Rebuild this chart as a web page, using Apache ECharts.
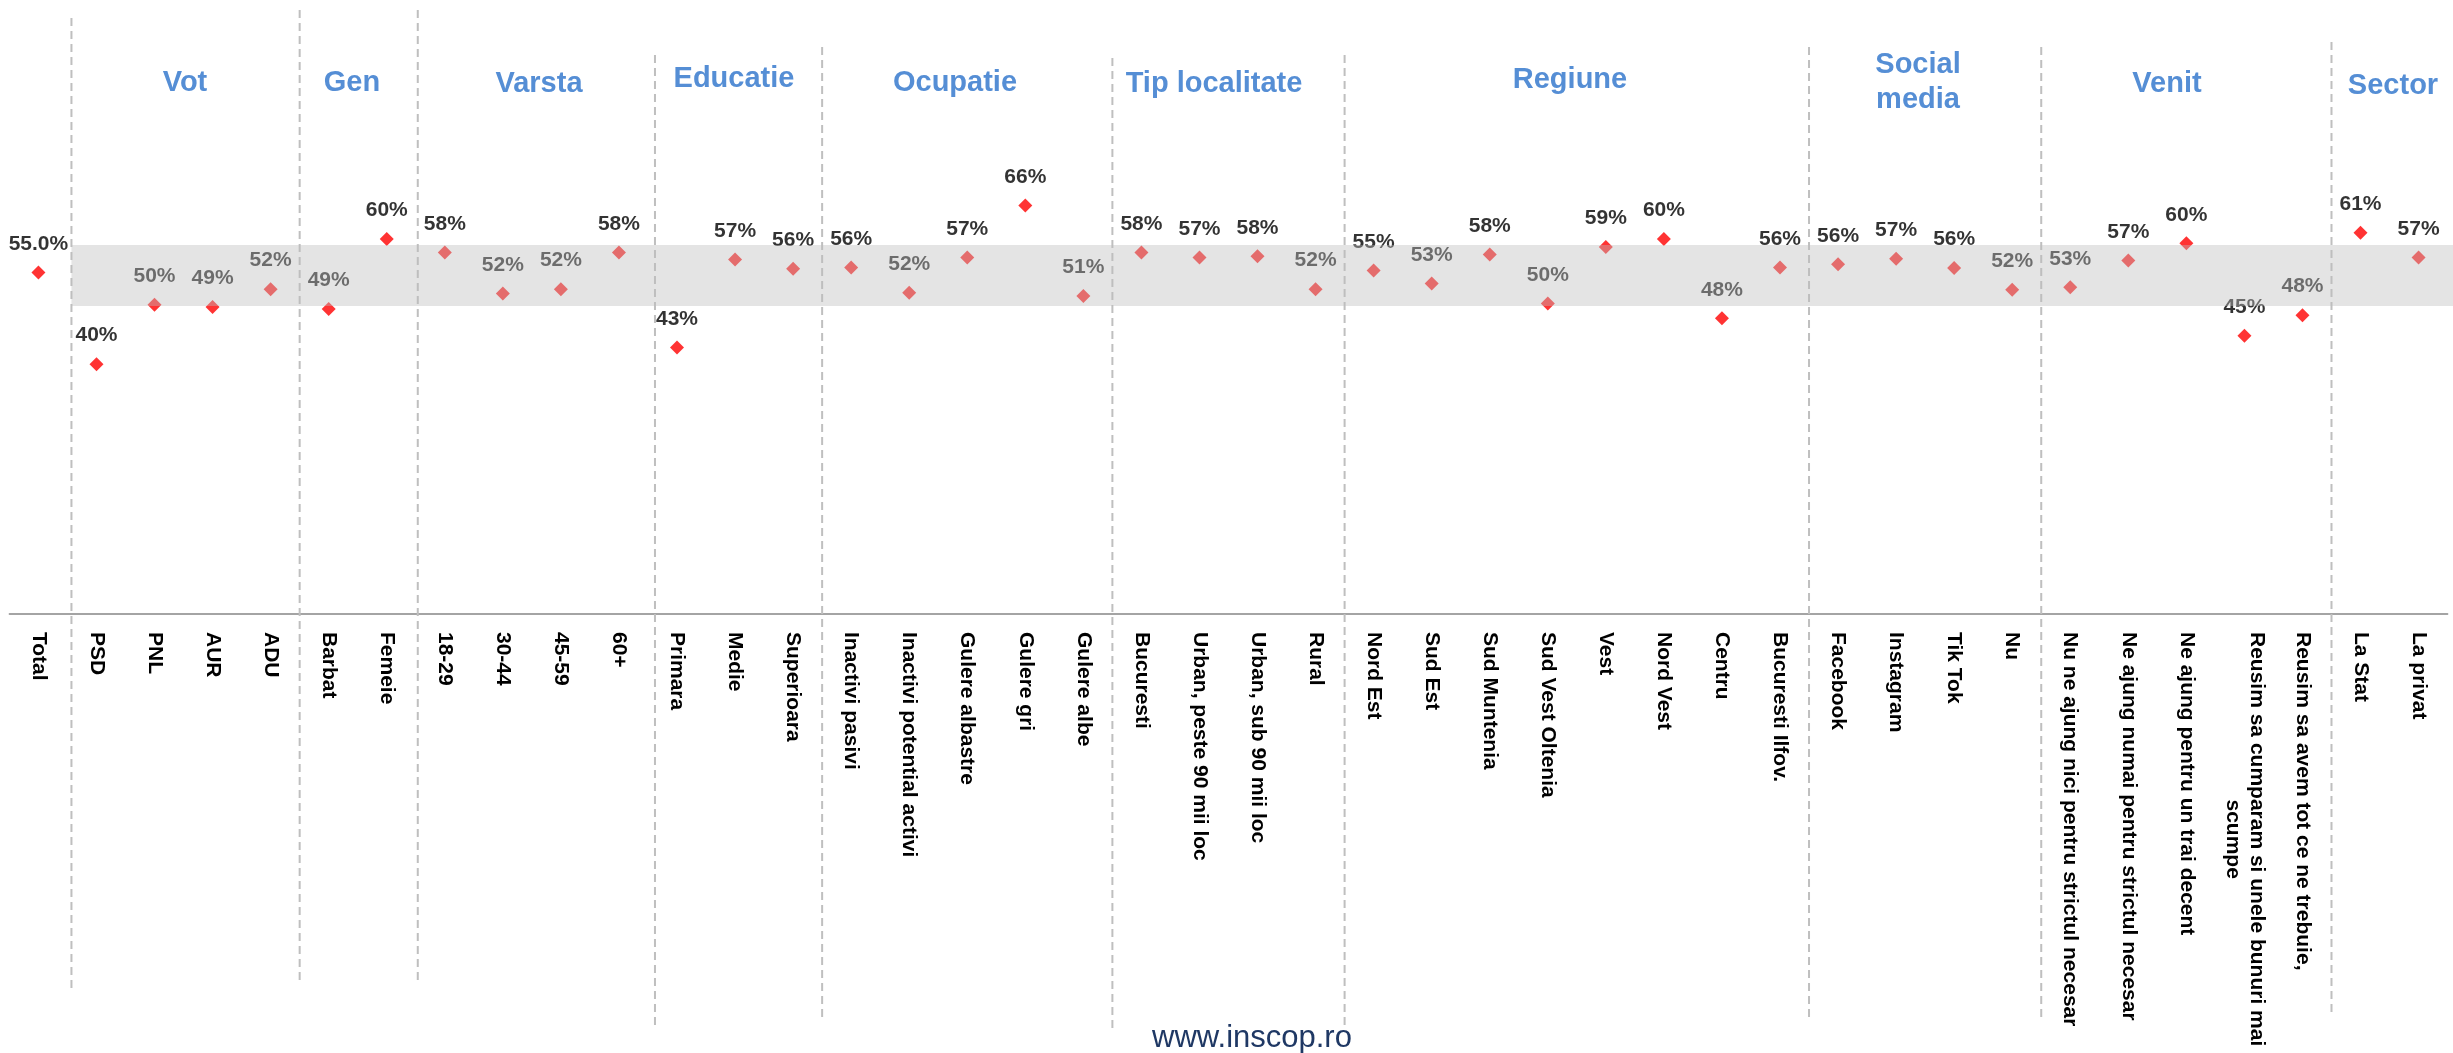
<!DOCTYPE html>
<html>
<head>
<meta charset="utf-8">
<title>INSCOP</title>
<script src="https://cdn.jsdelivr.net/npm/echarts@6/dist/echarts.min.js"></script>
<style>
  html, body { margin: 0; padding: 0; background: #ffffff; }
  #chart { width: 2453px; height: 1053px; }
</style>
</head>
<body>
<div id="chart"></div>
<script>
// categorii pe axa X
const categories = [
  "Total",
  "PSD", "PNL", "AUR", "ADU",
  "Barbat", "Femeie",
  "18-29", "30-44", "45-59", "60+",
  "Primara", "Medie", "Superioara",
  "Inactivi pasivi", "Inactivi potential activi", "Gulere albastre", "Gulere gri", "Gulere albe",
  "Bucuresti", "Urban, peste 90 mii loc", "Urban, sub 90 mii loc", "Rural",
  "Nord Est", "Sud Est", "Sud Muntenia", "Sud Vest Oltenia", "Vest", "Nord Vest", "Centru", "Bucuresti Ilfov.",
  "Facebook", "Instagram", "Tik Tok", "Nu",
  "Nu ne ajung nici pentru strictul necesar", "Ne ajung numai pentru strictul necesar",
  "Ne ajung pentru un trai decent", "Reusim sa cumparam si unele bunuri mai\nscumpe",
  "Reusim sa avem tot ce ne trebuie,",
  "La Stat", "La privat"
];

// procente
const values = [
  55.0,
  40.2, 49.8, 49.4, 52.3,
  49.1, 60.4,
  58.2, 51.6, 52.3, 58.2,
  42.9, 57.1, 55.6,
  55.8, 51.7, 57.4, 65.8, 51.2,
  58.2, 57.4, 57.6, 52.3,
  55.3, 53.2, 57.9, 50.0, 59.1, 60.4, 47.6, 55.8,
  56.3, 57.2, 55.7, 52.2,
  52.6, 56.9, 59.7, 44.8, 48.1,
  61.4, 57.4
];

// grupuri (titluri) si cate categorii are fiecare
const groupNames = ["Vot", "Gen", "Varsta", "Educatie", "Ocupatie", "Tip localitate", "Regiune", "Social\nmedia", "Venit", "Sector"];
const groupSizes = [4, 2, 4, 3, 5, 4, 8, 4, 5, 2];

// banda gri (interval)
const bandRange = [49.6, 59.4];

// --- layout ---
const FONT = '"Liberation Sans", Arial, Helvetica, sans-serif';
const titlePos = [[185, 83], [352, 83], [539, 84], [734, 79], [955, 83], [1214, 84], [1570, 80], [1918, 82], [2167, 84], [2393, 86]];
// [sus, jos, deplasare x] pentru liniile punctate
const dividerSpan = [[18, 992, 4], [10, 984, 0], [10, 984, 2], [55, 1029, 7], [47, 1019, 0], [58, 1030, 0], [55, 1030, 0], [47, 1020, 0], [47, 1020, 0], [42, 1015, 0]];
const gridRight = 5.4;

// granitele dintre grupuri (index categorie)
const boundaries = [];
let acc = 1;
groupSizes.forEach((n) => { boundaries.push(acc); acc += n; });

const chart = echarts.init(document.getElementById("chart"));

const graphics = [];
groupNames.forEach((name, i) => {
  const lines = name.split("\n");
  lines.forEach((line, j) => {
    graphics.push({
      type: "text",
      x: titlePos[i][0],
      y: titlePos[i][1] + (j - (lines.length - 1) / 2) * 35,
      z: 20,
      silent: true,
      style: {
        text: line,
        fill: "#558ED5",
        font: "bold 29px " + FONT,
        textAlign: "center",
        textVerticalAlign: "middle"
      }
    });
  });
});
graphics.push({
  type: "text",
  x: 1252,
  y: 1038,
  z: 20,
  silent: true,
  style: {
    text: "www.inscop.ro",
    fill: "#1F3864",
    font: "31px " + FONT,
    textAlign: "center",
    textVerticalAlign: "middle"
  }
});

const option = {
  backgroundColor: "#ffffff",
  animation: false,
  grid: {
    left: 9.4,
    right: gridRight,
    top: -6.6,
    bottom: 439.6,
    outerBoundsMode: "none"
  },
  xAxis: {
    type: "category",
    data: categories,
    boundaryGap: true,
    offset: 4.6,
    axisLine: { lineStyle: { color: "#868686", width: 1.5 } },
    axisTick: { interval: 0, length: 6, lineStyle: { color: "#868686", width: 1.5 } },
    splitLine: { show: false },
    axisLabel: {
      interval: 0,
      rotate: -90,
      margin: 14,
      color: "#000000",
      fontSize: 21,
      fontWeight: "bold",
      fontFamily: FONT,
      formatter: (v) => {
        if (v.indexOf("\n") < 0) return v;
        return v.split("\n").map((s) => "{w|" + s + "}").join("\n");
      },
      rich: {
        w: {
          align: "center",
          color: "#000000",
          fontSize: 21,
          fontWeight: "bold",
          fontFamily: FONT,
          lineHeight: 24
        }
      }
    }
  },
  yAxis: {
    type: "value",
    min: 0,
    max: 100,
    show: false
  },
  graphic: graphics,
  series: [
    {
      // linii punctate intre grupuri
      type: "custom",
      z: 1,
      silent: true,
      clip: false,
      data: boundaries.map((b, i) => [b, i]),
      renderItem: (params, api) => {
        const k = api.value(0);
        const i = params.dataIndex;
        const half = api.size([1, 0])[0] / 2;
        const x = api.coord([k, 0])[0] - half + dividerSpan[i][2];
        return {
          type: "line",
          shape: { x1: x, y1: dividerSpan[i][0], x2: x, y2: dividerSpan[i][1] },
          style: { stroke: "#BFBFBF", lineWidth: 2, lineDash: [8, 5] }
        };
      }
    },
    {
      type: "scatter",
      z: 2,
      silent: true,
      data: values,
      symbol: "diamond",
      symbolSize: 14,
      itemStyle: { color: "#FF0000" },
      label: {
        show: true,
        position: "top",
        distance: 11,
        color: "#000000",
        fontSize: 21,
        fontWeight: "bold",
        fontFamily: FONT,
        formatter: (p) => (p.dataIndex === 0 ? p.value.toFixed(1) : Math.round(p.value)) + "%"
      }
    },
    {
      // banda gri, desenata peste puncte (semi-transparenta)
      type: "custom",
      z: 10,
      silent: true,
      clip: false,
      data: [[1, bandRange[0], bandRange[1]]],
      encode: { x: 0, y: [1, 2] },
      renderItem: (params, api) => {
        const half = api.size([1, 0])[0] / 2;
        const lo = api.coord([api.value(0), api.value(1)]);
        const hi = api.coord([api.value(0), api.value(2)]);
        const x0 = lo[0] - half + dividerSpan[0][2];
        const right = params.coordSys.x + params.coordSys.width + gridRight;
        return {
          type: "rect",
          shape: { x: x0, y: hi[1], width: right - x0, height: lo[1] - hi[1] },
          style: { fill: "rgba(189,189,189,0.41)" }
        };
      }
    }
  ]
};

chart.setOption(option);
</script>
</body>
</html>
